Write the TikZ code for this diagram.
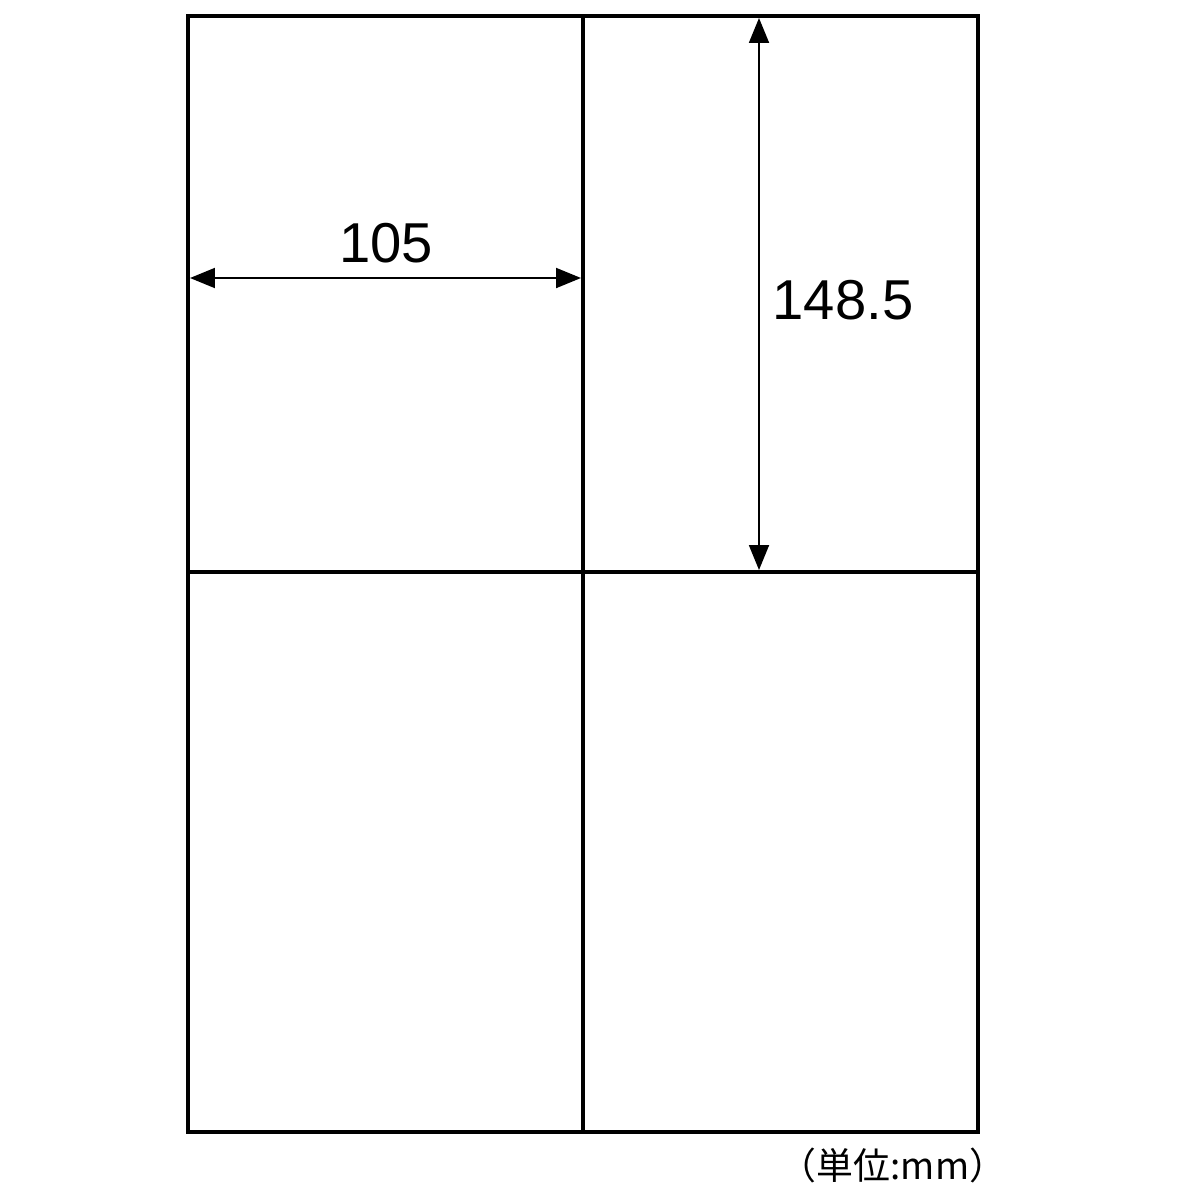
\documentclass[tikz,border=0pt]{standalone}
\usepackage{fontspec}
\setmainfont{Liberation Sans}
\newfontfamily\cjkfont{Noto Sans CJK JP}
\usepackage{tikz}
\usetikzlibrary{arrows.meta, positioning, calc}

\begin{document}
\begin{tikzpicture}[x=0.02cm, y=-0.02cm,
    frameline/.style={line width=1.9pt, black},
    dimline/.style={line width=1.1pt, black, {Triangle[length=0.5cm, width=0.4cm]}-{Triangle[length=0.5cm, width=0.4cm]}},
    dimlabel/.style={font=\fontsize{32}{36}\selectfont, inner sep=0pt}]
    \useasboundingbox (0,0) rectangle (1200,1200);
    
    % Sheet corners and cell dividers
    \coordinate (tl) at (188,16);
    \coordinate (br) at (978,1132);
    \coordinate (midtop) at (583,16);
    \coordinate (midbot) at (583,1132);
    \coordinate (midleft) at (188,572);
    \coordinate (midright) at (978,572);
    
    % Sheet with four labels
    \draw[frameline] (tl) rectangle (br);
    \draw[frameline] (midtop) -- (midbot);
    \draw[frameline] (midleft) -- (midright);
    
    % Width of one label
    \coordinate (wA) at (190,278);
    \coordinate (wB) at (581,278);
    \draw[dimline] (wA) -- (wB);
    \node[dimlabel] (width) at (386,243) {105};
    
    % Height of one label
    \coordinate (hA) at (759,18);
    \coordinate (hB) at (759,570);
    \draw[dimline] (hA) -- (hB);
    \node[dimlabel] (height) at (843,300) {148.5};
    
    % Unit
    \node[font=\cjkfont\fontsize{21}{24}\selectfont, inner sep=0pt] (unit) at (893,1165) {（単位:mm）};
\end{tikzpicture}
\end{document}
